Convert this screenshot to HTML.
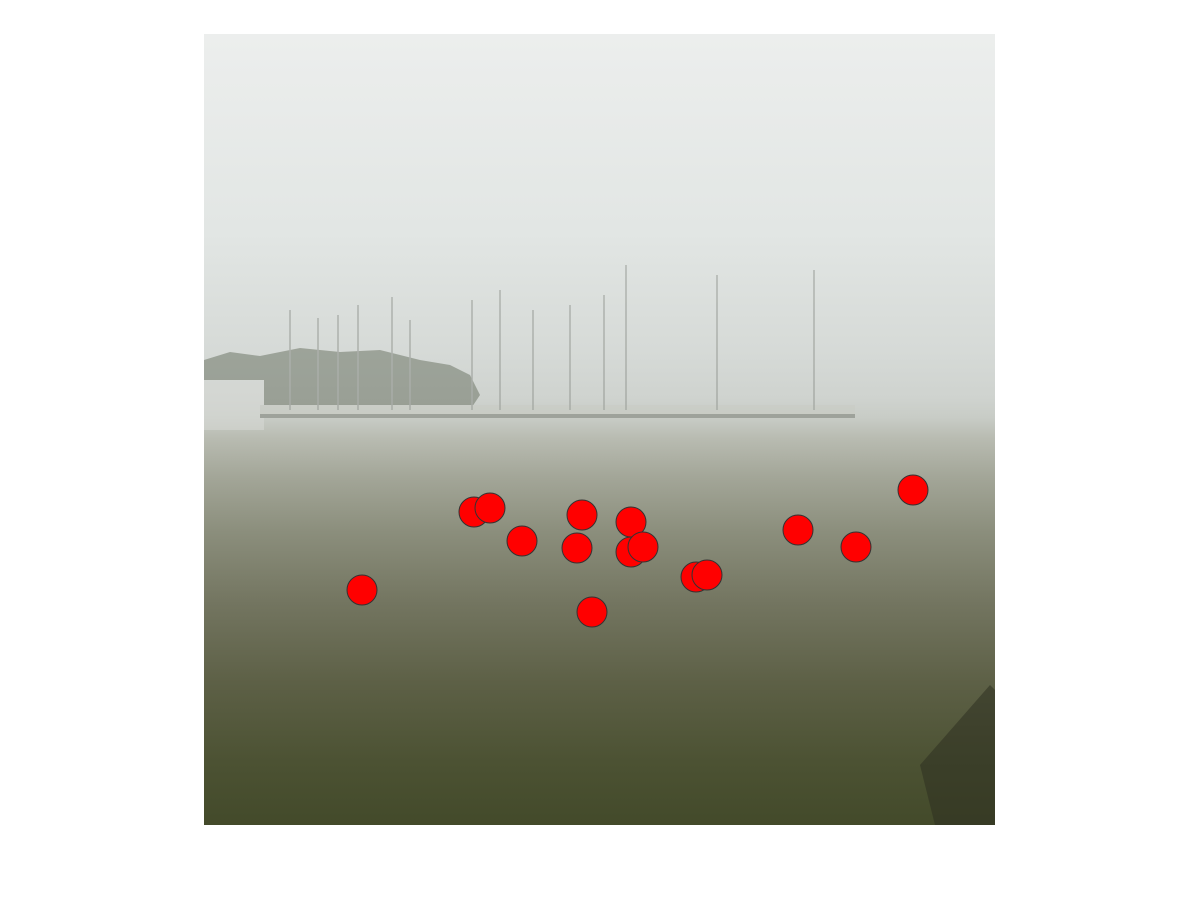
<!DOCTYPE html>
<html><head><meta charset="utf-8"><style>
body{margin:0;width:1201px;height:900px;background:#fff;overflow:hidden;font-family:"Liberation Sans",sans-serif}
#photo{position:absolute;left:204px;top:34px;width:791px;height:791px;
background:linear-gradient(to bottom,#eceeed 0%,#e2e6e4 25%,#d6dad7 40%,#cfd3cf 46%,#c8ccc6 48.5%,#b9bcb2 51%,#a3a698 56%,#8b8e7c 63%,#737560 72%,#5d6046 82%,#4c5233 92%,#434a2a 100%)}
svg{position:absolute;left:0;top:0}
</style></head><body>
<div id="photo"></div>
<svg id="chart" width="1201" height="900">
<g opacity="0.55">
<path d="M204,360 L230,352 L260,356 L300,348 L340,352 L380,350 L420,360 L450,365 L470,375 L480,395 L470,410 L204,410 Z" fill="#6f7768"/>
<rect x="204" y="380" width="60" height="50" fill="#d8dad6"/>
<rect x="260" y="405" width="595" height="12" fill="#c9ccc4"/>
<rect x="260" y="414" width="595" height="4" fill="#7c8078"/>
<g stroke="#8a8e88" stroke-width="1.5">
<line x1="290" y1="310" x2="290" y2="410"/><line x1="318" y1="318" x2="318" y2="410"/>
<line x1="338" y1="315" x2="338" y2="410"/><line x1="358" y1="305" x2="358" y2="410"/>
<line x1="392" y1="297" x2="392" y2="410"/><line x1="410" y1="320" x2="410" y2="410"/>
<line x1="472" y1="300" x2="472" y2="410"/><line x1="500" y1="290" x2="500" y2="410"/>
<line x1="533" y1="310" x2="533" y2="410"/><line x1="570" y1="305" x2="570" y2="410"/>
<line x1="604" y1="295" x2="604" y2="410"/><line x1="626" y1="265" x2="626" y2="410"/>
<line x1="717" y1="275" x2="717" y2="410"/><line x1="814" y1="270" x2="814" y2="410"/>
</g>
<path d="M920,765 L990,685 L995,690 L995,825 L935,825 Z" fill="#2e3020"/>
</g>
<g id="pts"></g>
</svg>
<script>
const xs=[270,286,378,427,318,373,427,439,594,652,709,492,503,158,388];
const ys=[478,474,481,488,507,514,518,513,496,513,456,543,541,556,578];
const r=15;
function sx(v){return 204+v;}
function sy(v){return 34+v;}
const g=document.getElementById('pts');
for(let i=0;i<xs.length;i++){
  const c=document.createElementNS('http://www.w3.org/2000/svg','circle');
  c.setAttribute('cx',sx(xs[i]));c.setAttribute('cy',sy(ys[i]));c.setAttribute('r',r);
  c.setAttribute('fill','#ff0000');c.setAttribute('stroke','#333');c.setAttribute('stroke-width','1');
  
  
  g.appendChild(c);
}
</script>
</body></html>
